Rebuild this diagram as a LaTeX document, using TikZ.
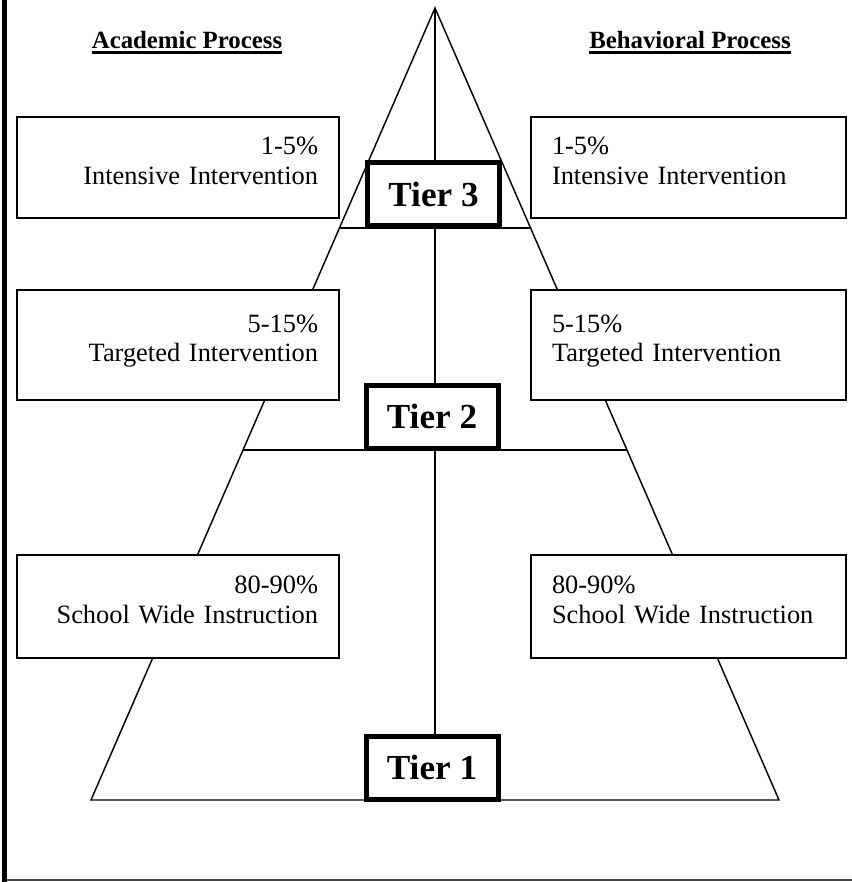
\documentclass[tikz,border=0pt]{standalone}
\usepackage{fontspec}
\setmainfont{Liberation Serif}
\usetikzlibrary{positioning, calc}
\tikzset{
    pyrline/.style={line width=1.1pt},
    sidebox/.style={draw, rectangle, line width=1.1pt, fill=white, inner xsep=15.75pt, text depth=32pt, font=\fontsize{19.8}{22}\selectfont},
    leftbox/.style={sidebox, minimum width=241.5pt, text width=210pt, align=right},
    rightbox/.style={sidebox, minimum width=236.25pt, text width=204.75pt, align=left},
    tierbox/.style={draw, rectangle, line width=3.75pt, fill=white, minimum width=99pt, minimum height=47.25pt, font=\bfseries\fontsize{26.4}{28}\selectfont},
    heading/.style={inner sep=0pt, font=\bfseries\fontsize{18.6}{20}\selectfont}
}

\begin{document}
\begin{tikzpicture}[x=0.75pt, y=-0.75pt]
    \useasboundingbox (0,0) rectangle (852,882);
    % page frame
    \draw [line width=3.75pt] (4.5,0) -- (4.5,882);
    \draw [line width=1.1pt, black!70] (7,880) -- (852,880);

    % pyramid
    \coordinate (apex) at (435,8);
    \coordinate (baseL) at (91,800);
    \coordinate (baseR) at (779,800);
    \coordinate (baseM) at (435,800);
    \coordinate (t3L) at ($(apex)!0.2778!(baseL)$);
    \coordinate (t3R) at ($(apex)!0.2778!(baseR)$);
    \coordinate (t2L) at ($(apex)!0.558!(baseL)$);
    \coordinate (t2R) at ($(apex)!0.558!(baseR)$);
    \draw [pyrline] (apex) -- (baseL) -- (baseR) -- cycle;
    \draw [pyrline] (apex) -- (baseM);
    \draw [pyrline] (t3L) -- (t3R);
    \draw [pyrline] (t2L) -- (t2R);

    % academic side
    \node (acad1) [leftbox, minimum height=75.75pt] at (178,167.5) {1-5\%\\Intensive Intervention};
    \node (acad2) [leftbox, minimum height=82.5pt] at (178,345) {5-15\%\\Targeted Intervention};
    \node (acad3) [leftbox, minimum height=77.25pt] at (178,606.5) {80-90\%\\School Wide Instruction};

    % behavioral side
    \node (beh1) [rightbox, minimum height=75.75pt] at (688.5,167.5) {1-5\%\\Intensive Intervention};
    \node (beh2) [rightbox, minimum height=82.5pt] at (688.5,345) {5-15\%\\Targeted Intervention};
    \node (beh3) [rightbox, minimum height=77.25pt] at (688.5,606.5) {80-90\%\\School Wide Instruction};

    % tiers
    \node (tier3) [tierbox] at (433.5,194) {Tier 3};
    \node (tier2) [tierbox] at (432,416.5) {Tier 2};
    \node (tier1) [tierbox] at (432,767.5) {Tier 1};

    % headings
    \node (hAcad) [heading] at (187,40) {Academic Process};
    \node (hBeh) [heading] at (690,40) {Behavioral Process};
    \draw [line width=2pt] ([yshift=-3pt]hAcad.base west) -- ([yshift=-3pt]hAcad.base east);
    \draw [line width=2pt] ([yshift=-3pt]hBeh.base west) -- ([yshift=-3pt]hBeh.base east);
\end{tikzpicture}
\end{document}
